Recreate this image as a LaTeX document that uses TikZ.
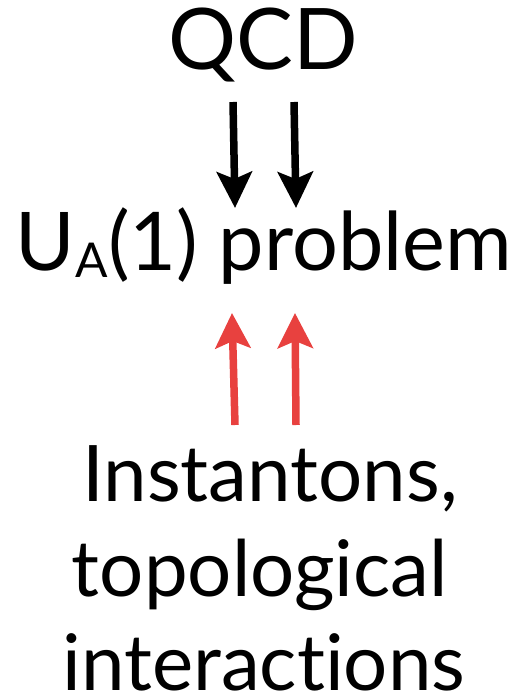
\documentclass[tikz,border=0pt]{standalone}
\usepackage{fontspec}
\setmainfont{Lato}[Ligatures={NoCommon,NoContextual,NoRare},Contextuals=NoAlternate]
\usetikzlibrary{arrows.meta}
\definecolor{arrowred}{HTML}{E8413F}
\begin{document}
\begin{tikzpicture}[x=1pt,y=-1pt,
  lbl/.style={inner sep=0pt, anchor=base},
  blackarrow/.style={draw=black, line width=7.5pt, -{Stealth[length=36pt,width=35pt,inset=7pt]}},
  redarrow/.style={draw=arrowred, line width=7.5pt, -{Stealth[length=35pt,width=35pt,inset=7pt]}}]
\useasboundingbox (0,0) rectangle (525,700);
\node[lbl] (qcd) at (263,70) {\fontsize{85}{85}\selectfont QCD};
\node[lbl] (ua) at (264,270) {\fontsize{81}{81}\selectfont U\raisebox{-7pt}{\fontsize{48}{48}\selectfont A}(1) problem};
\node[lbl] (inst) at (270,501) {\fontsize{78}{78}\selectfont Instantons,};
\node[lbl] (topo) at (260,596) {\fontsize{78}{78}\selectfont topological};
\node[lbl, text depth=0pt] (inter) at (264,690) {\fontsize{78}{78}\selectfont interactions};
\coordinate (d1s) at (233,102);
\coordinate (d1e) at (235,208);
\coordinate (d2s) at (294,102);
\coordinate (d2e) at (296,208);
\coordinate (u1s) at (235,425);
\coordinate (u1e) at (232,313);
\coordinate (u2s) at (296,425);
\coordinate (u2e) at (295,313);
\draw[blackarrow] (d1s) -- (d1e);
\draw[blackarrow] (d2s) -- (d2e);
\draw[redarrow] (u1s) -- (u1e);
\draw[redarrow] (u2s) -- (u2e);
\end{tikzpicture}
\end{document}
